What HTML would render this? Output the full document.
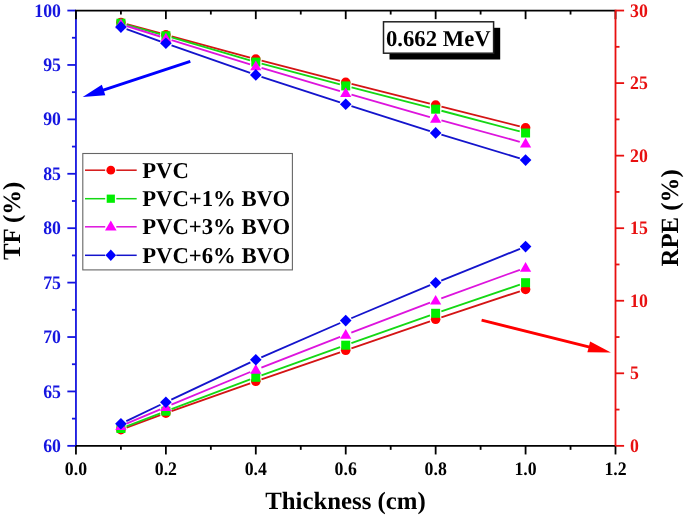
<!DOCTYPE html><html><head><meta charset="utf-8"><style>html,body{margin:0;padding:0;background:#fff;width:685px;height:517px;overflow:hidden}svg{display:block;will-change:transform} text{text-rendering:geometricPrecision}</style></head><body><svg width="685" height="517" viewBox="0 0 685 517"><rect width="685" height="517" fill="#fff"/><line x1="126.70" y1="24.08" x2="160.09" y2="33.22" stroke="#d41414" stroke-width="1.85"/><line x1="171.67" y1="36.37" x2="250.01" y2="57.53" stroke="#d41414" stroke-width="1.85"/><line x1="261.61" y1="60.60" x2="339.92" y2="80.90" stroke="#d41414" stroke-width="1.85"/><line x1="351.54" y1="83.87" x2="429.83" y2="103.63" stroke="#d41414" stroke-width="1.85"/><line x1="441.47" y1="106.57" x2="519.76" y2="126.33" stroke="#d41414" stroke-width="1.85"/><circle cx="120.91" cy="22.50" r="4.80" fill="#ff0000"/><circle cx="165.88" cy="34.80" r="4.80" fill="#ff0000"/><circle cx="255.80" cy="59.10" r="4.80" fill="#ff0000"/><circle cx="345.72" cy="82.40" r="4.80" fill="#ff0000"/><circle cx="435.65" cy="105.10" r="4.80" fill="#ff0000"/><circle cx="525.58" cy="127.80" r="4.80" fill="#ff0000"/><line x1="126.69" y1="24.82" x2="160.10" y2="34.18" stroke="#14d814" stroke-width="1.85"/><line x1="171.63" y1="37.48" x2="250.04" y2="60.42" stroke="#14d814" stroke-width="1.85"/><line x1="261.60" y1="63.64" x2="339.92" y2="84.36" stroke="#14d814" stroke-width="1.85"/><line x1="351.53" y1="87.40" x2="429.84" y2="107.70" stroke="#14d814" stroke-width="1.85"/><line x1="441.45" y1="110.74" x2="519.77" y2="131.46" stroke="#14d814" stroke-width="1.85"/><rect x="116.41" y="18.70" width="9.00" height="9.00" fill="#00ee00"/><rect x="161.38" y="31.30" width="9.00" height="9.00" fill="#00ee00"/><rect x="251.30" y="57.60" width="9.00" height="9.00" fill="#00ee00"/><rect x="341.22" y="81.40" width="9.00" height="9.00" fill="#00ee00"/><rect x="431.15" y="104.70" width="9.00" height="9.00" fill="#00ee00"/><rect x="521.08" y="128.50" width="9.00" height="9.00" fill="#00ee00"/><line x1="126.64" y1="26.00" x2="160.15" y2="36.50" stroke="#dd14dd" stroke-width="1.85"/><line x1="171.61" y1="40.08" x2="250.07" y2="64.42" stroke="#dd14dd" stroke-width="1.85"/><line x1="261.55" y1="67.91" x2="339.97" y2="91.19" stroke="#dd14dd" stroke-width="1.85"/><line x1="351.49" y1="94.55" x2="429.88" y2="117.05" stroke="#dd14dd" stroke-width="1.85"/><line x1="441.44" y1="120.29" x2="519.79" y2="141.81" stroke="#dd14dd" stroke-width="1.85"/><polygon points="120.91,18.60 126.51,28.20 115.31,28.20" fill="#ff00ff"/><polygon points="165.88,32.70 171.47,42.30 160.28,42.30" fill="#ff00ff"/><polygon points="255.80,60.60 261.40,70.20 250.20,70.20" fill="#ff00ff"/><polygon points="345.72,87.30 351.32,96.90 340.12,96.90" fill="#ff00ff"/><polygon points="435.65,113.10 441.25,122.70 430.05,122.70" fill="#ff00ff"/><polygon points="525.58,137.80 531.18,147.40 519.98,147.40" fill="#ff00ff"/><line x1="126.56" y1="29.13" x2="160.23" y2="41.27" stroke="#1414cc" stroke-width="1.85"/><line x1="171.54" y1="45.29" x2="250.14" y2="72.91" stroke="#1414cc" stroke-width="1.85"/><line x1="261.50" y1="76.76" x2="340.02" y2="102.44" stroke="#1414cc" stroke-width="1.85"/><line x1="351.44" y1="106.12" x2="429.93" y2="131.08" stroke="#1414cc" stroke-width="1.85"/><line x1="441.39" y1="134.64" x2="519.83" y2="158.36" stroke="#1414cc" stroke-width="1.85"/><polygon points="120.91,21.30 126.71,27.10 120.91,32.90 115.11,27.10" fill="#0000ff"/><polygon points="165.88,37.50 171.68,43.30 165.88,49.10 160.07,43.30" fill="#0000ff"/><polygon points="255.80,69.10 261.60,74.90 255.80,80.70 250.00,74.90" fill="#0000ff"/><polygon points="345.72,98.50 351.52,104.30 345.72,110.10 339.92,104.30" fill="#0000ff"/><polygon points="435.65,127.10 441.45,132.90 435.65,138.70 429.85,132.90" fill="#0000ff"/><polygon points="525.58,154.30 531.38,160.10 525.58,165.90 519.78,160.10" fill="#0000ff"/><line x1="126.54" y1="427.62" x2="160.25" y2="415.18" stroke="#d41414" stroke-width="1.85"/><line x1="171.53" y1="411.10" x2="250.14" y2="383.30" stroke="#d41414" stroke-width="1.85"/><line x1="261.47" y1="379.34" x2="340.05" y2="352.26" stroke="#d41414" stroke-width="1.85"/><line x1="351.40" y1="348.34" x2="429.98" y2="321.26" stroke="#d41414" stroke-width="1.85"/><line x1="441.34" y1="317.41" x2="519.88" y2="291.29" stroke="#d41414" stroke-width="1.85"/><circle cx="120.91" cy="429.70" r="4.80" fill="#ff0000"/><circle cx="165.88" cy="413.10" r="4.80" fill="#ff0000"/><circle cx="255.80" cy="381.30" r="4.80" fill="#ff0000"/><circle cx="345.72" cy="350.30" r="4.80" fill="#ff0000"/><circle cx="435.65" cy="319.30" r="4.80" fill="#ff0000"/><circle cx="525.58" cy="289.40" r="4.80" fill="#ff0000"/><line x1="126.51" y1="426.35" x2="160.28" y2="413.35" stroke="#14d814" stroke-width="1.85"/><line x1="171.49" y1="409.08" x2="250.19" y2="379.42" stroke="#14d814" stroke-width="1.85"/><line x1="261.45" y1="375.28" x2="340.07" y2="347.22" stroke="#14d814" stroke-width="1.85"/><line x1="351.38" y1="343.19" x2="430.00" y2="315.31" stroke="#14d814" stroke-width="1.85"/><line x1="441.33" y1="311.37" x2="519.89" y2="284.63" stroke="#14d814" stroke-width="1.85"/><rect x="116.41" y="424.00" width="9.00" height="9.00" fill="#00ee00"/><rect x="161.38" y="406.70" width="9.00" height="9.00" fill="#00ee00"/><rect x="251.30" y="372.80" width="9.00" height="9.00" fill="#00ee00"/><rect x="341.22" y="340.70" width="9.00" height="9.00" fill="#00ee00"/><rect x="431.15" y="308.80" width="9.00" height="9.00" fill="#00ee00"/><rect x="521.08" y="278.20" width="9.00" height="9.00" fill="#00ee00"/><line x1="126.44" y1="423.57" x2="160.34" y2="409.33" stroke="#dd14dd" stroke-width="1.85"/><line x1="171.42" y1="404.70" x2="250.26" y2="372.00" stroke="#dd14dd" stroke-width="1.85"/><line x1="261.39" y1="367.52" x2="340.13" y2="336.88" stroke="#dd14dd" stroke-width="1.85"/><line x1="351.33" y1="332.57" x2="430.04" y2="302.63" stroke="#dd14dd" stroke-width="1.85"/><line x1="441.29" y1="298.44" x2="519.94" y2="269.76" stroke="#dd14dd" stroke-width="1.85"/><polygon points="120.91,420.30 126.51,429.90 115.31,429.90" fill="#ff00ff"/><polygon points="165.88,401.40 171.47,411.00 160.28,411.00" fill="#ff00ff"/><polygon points="255.80,364.10 261.40,373.70 250.20,373.70" fill="#ff00ff"/><polygon points="345.72,329.10 351.32,338.70 340.12,338.70" fill="#ff00ff"/><polygon points="435.65,294.90 441.25,304.50 430.05,304.50" fill="#ff00ff"/><polygon points="525.58,262.10 531.18,271.70 519.98,271.70" fill="#ff00ff"/><line x1="126.33" y1="421.11" x2="160.46" y2="404.79" stroke="#1414cc" stroke-width="1.85"/><line x1="171.30" y1="399.64" x2="250.37" y2="362.36" stroke="#1414cc" stroke-width="1.85"/><line x1="261.30" y1="357.40" x2="340.22" y2="323.00" stroke="#1414cc" stroke-width="1.85"/><line x1="351.26" y1="318.27" x2="430.12" y2="285.13" stroke="#1414cc" stroke-width="1.85"/><line x1="441.22" y1="280.56" x2="520.01" y2="248.84" stroke="#1414cc" stroke-width="1.85"/><polygon points="120.91,417.90 126.71,423.70 120.91,429.50 115.11,423.70" fill="#0000ff"/><polygon points="165.88,396.40 171.68,402.20 165.88,408.00 160.07,402.20" fill="#0000ff"/><polygon points="255.80,354.00 261.60,359.80 255.80,365.60 250.00,359.80" fill="#0000ff"/><polygon points="345.72,314.80 351.52,320.60 345.72,326.40 339.92,320.60" fill="#0000ff"/><polygon points="435.65,277.00 441.45,282.80 435.65,288.60 429.85,282.80" fill="#0000ff"/><polygon points="525.58,240.80 531.38,246.60 525.58,252.40 519.78,246.60" fill="#0000ff"/><line x1="75.95" y1="10.55" x2="75.95" y2="445.85" stroke="#1515e0" stroke-width="1.8"/><line x1="67.35000000000001" y1="445.85" x2="75.95" y2="445.85" stroke="#1515e0" stroke-width="1.8"/><line x1="71.95" y1="418.64" x2="75.95" y2="418.64" stroke="#1515e0" stroke-width="1.8"/><line x1="67.35000000000001" y1="391.44" x2="75.95" y2="391.44" stroke="#1515e0" stroke-width="1.8"/><line x1="71.95" y1="364.23" x2="75.95" y2="364.23" stroke="#1515e0" stroke-width="1.8"/><line x1="67.35000000000001" y1="337.03" x2="75.95" y2="337.03" stroke="#1515e0" stroke-width="1.8"/><line x1="71.95" y1="309.82" x2="75.95" y2="309.82" stroke="#1515e0" stroke-width="1.8"/><line x1="67.35000000000001" y1="282.61" x2="75.95" y2="282.61" stroke="#1515e0" stroke-width="1.8"/><line x1="71.95" y1="255.41" x2="75.95" y2="255.41" stroke="#1515e0" stroke-width="1.8"/><line x1="67.35000000000001" y1="228.20" x2="75.95" y2="228.20" stroke="#1515e0" stroke-width="1.8"/><line x1="71.95" y1="200.99" x2="75.95" y2="200.99" stroke="#1515e0" stroke-width="1.8"/><line x1="67.35000000000001" y1="173.79" x2="75.95" y2="173.79" stroke="#1515e0" stroke-width="1.8"/><line x1="71.95" y1="146.58" x2="75.95" y2="146.58" stroke="#1515e0" stroke-width="1.8"/><line x1="67.35000000000001" y1="119.38" x2="75.95" y2="119.38" stroke="#1515e0" stroke-width="1.8"/><line x1="71.95" y1="92.17" x2="75.95" y2="92.17" stroke="#1515e0" stroke-width="1.8"/><line x1="67.35000000000001" y1="64.96" x2="75.95" y2="64.96" stroke="#1515e0" stroke-width="1.8"/><line x1="71.95" y1="37.76" x2="75.95" y2="37.76" stroke="#1515e0" stroke-width="1.8"/><line x1="67.35000000000001" y1="10.55" x2="75.95" y2="10.55" stroke="#1515e0" stroke-width="1.8"/><line x1="75.05" y1="10.55" x2="615.5" y2="10.55" stroke="#000" stroke-width="1.8"/><line x1="75.95" y1="445.85" x2="615.5" y2="445.85" stroke="#000" stroke-width="1.8"/><line x1="75.95" y1="10.55" x2="75.95" y2="19.15" stroke="#000" stroke-width="1.8"/><line x1="75.95" y1="445.85" x2="75.95" y2="454.45000000000005" stroke="#000" stroke-width="1.8"/><line x1="120.91" y1="10.55" x2="120.91" y2="14.55" stroke="#000" stroke-width="1.8"/><line x1="120.91" y1="445.85" x2="120.91" y2="449.85" stroke="#000" stroke-width="1.8"/><line x1="165.88" y1="10.55" x2="165.88" y2="19.15" stroke="#000" stroke-width="1.8"/><line x1="165.88" y1="445.85" x2="165.88" y2="454.45000000000005" stroke="#000" stroke-width="1.8"/><line x1="210.84" y1="10.55" x2="210.84" y2="14.55" stroke="#000" stroke-width="1.8"/><line x1="210.84" y1="445.85" x2="210.84" y2="449.85" stroke="#000" stroke-width="1.8"/><line x1="255.80" y1="10.55" x2="255.80" y2="19.15" stroke="#000" stroke-width="1.8"/><line x1="255.80" y1="445.85" x2="255.80" y2="454.45000000000005" stroke="#000" stroke-width="1.8"/><line x1="300.76" y1="10.55" x2="300.76" y2="14.55" stroke="#000" stroke-width="1.8"/><line x1="300.76" y1="445.85" x2="300.76" y2="449.85" stroke="#000" stroke-width="1.8"/><line x1="345.73" y1="10.55" x2="345.73" y2="19.15" stroke="#000" stroke-width="1.8"/><line x1="345.73" y1="445.85" x2="345.73" y2="454.45000000000005" stroke="#000" stroke-width="1.8"/><line x1="390.69" y1="10.55" x2="390.69" y2="14.55" stroke="#000" stroke-width="1.8"/><line x1="390.69" y1="445.85" x2="390.69" y2="449.85" stroke="#000" stroke-width="1.8"/><line x1="435.65" y1="10.55" x2="435.65" y2="19.15" stroke="#000" stroke-width="1.8"/><line x1="435.65" y1="445.85" x2="435.65" y2="454.45000000000005" stroke="#000" stroke-width="1.8"/><line x1="480.61" y1="10.55" x2="480.61" y2="14.55" stroke="#000" stroke-width="1.8"/><line x1="480.61" y1="445.85" x2="480.61" y2="449.85" stroke="#000" stroke-width="1.8"/><line x1="525.58" y1="10.55" x2="525.58" y2="19.15" stroke="#000" stroke-width="1.8"/><line x1="525.58" y1="445.85" x2="525.58" y2="454.45000000000005" stroke="#000" stroke-width="1.8"/><line x1="570.54" y1="10.55" x2="570.54" y2="14.55" stroke="#000" stroke-width="1.8"/><line x1="570.54" y1="445.85" x2="570.54" y2="449.85" stroke="#000" stroke-width="1.8"/><line x1="615.50" y1="10.55" x2="615.50" y2="19.15" stroke="#000" stroke-width="1.8"/><line x1="615.50" y1="445.85" x2="615.50" y2="454.45000000000005" stroke="#000" stroke-width="1.8"/><line x1="615.5" y1="9.65" x2="615.5" y2="445.85" stroke="#e81010" stroke-width="1.8"/><line x1="615.5" y1="445.85" x2="624.1" y2="445.85" stroke="#e81010" stroke-width="1.8"/><line x1="615.5" y1="409.58" x2="619.5" y2="409.58" stroke="#e81010" stroke-width="1.8"/><line x1="615.5" y1="373.30" x2="624.1" y2="373.30" stroke="#e81010" stroke-width="1.8"/><line x1="615.5" y1="337.03" x2="619.5" y2="337.03" stroke="#e81010" stroke-width="1.8"/><line x1="615.5" y1="300.75" x2="624.1" y2="300.75" stroke="#e81010" stroke-width="1.8"/><line x1="615.5" y1="264.48" x2="619.5" y2="264.48" stroke="#e81010" stroke-width="1.8"/><line x1="615.5" y1="228.20" x2="624.1" y2="228.20" stroke="#e81010" stroke-width="1.8"/><line x1="615.5" y1="191.93" x2="619.5" y2="191.93" stroke="#e81010" stroke-width="1.8"/><line x1="615.5" y1="155.65" x2="624.1" y2="155.65" stroke="#e81010" stroke-width="1.8"/><line x1="615.5" y1="119.38" x2="619.5" y2="119.38" stroke="#e81010" stroke-width="1.8"/><line x1="615.5" y1="83.10" x2="624.1" y2="83.10" stroke="#e81010" stroke-width="1.8"/><line x1="615.5" y1="46.83" x2="619.5" y2="46.83" stroke="#e81010" stroke-width="1.8"/><line x1="615.5" y1="10.55" x2="624.1" y2="10.55" stroke="#e81010" stroke-width="1.8"/><text transform="translate(61,451.95) scale(1,1.075)" font-family="Liberation Serif" font-weight="bold" font-size="17.8" fill="#1515e0" text-anchor="end">60</text><text transform="translate(61,397.54) scale(1,1.075)" font-family="Liberation Serif" font-weight="bold" font-size="17.8" fill="#1515e0" text-anchor="end">65</text><text transform="translate(61,343.13) scale(1,1.075)" font-family="Liberation Serif" font-weight="bold" font-size="17.8" fill="#1515e0" text-anchor="end">70</text><text transform="translate(61,288.71) scale(1,1.075)" font-family="Liberation Serif" font-weight="bold" font-size="17.8" fill="#1515e0" text-anchor="end">75</text><text transform="translate(61,234.30) scale(1,1.075)" font-family="Liberation Serif" font-weight="bold" font-size="17.8" fill="#1515e0" text-anchor="end">80</text><text transform="translate(61,179.89) scale(1,1.075)" font-family="Liberation Serif" font-weight="bold" font-size="17.8" fill="#1515e0" text-anchor="end">85</text><text transform="translate(61,125.47) scale(1,1.075)" font-family="Liberation Serif" font-weight="bold" font-size="17.8" fill="#1515e0" text-anchor="end">90</text><text transform="translate(61,71.06) scale(1,1.075)" font-family="Liberation Serif" font-weight="bold" font-size="17.8" fill="#1515e0" text-anchor="end">95</text><text transform="translate(61,16.65) scale(1,1.075)" font-family="Liberation Serif" font-weight="bold" font-size="17.8" fill="#1515e0" text-anchor="end">100</text><text transform="translate(630,451.95) scale(1,1.075)" font-family="Liberation Serif" font-weight="bold" font-size="17.8" fill="#e81010">0</text><text transform="translate(630,379.40) scale(1,1.075)" font-family="Liberation Serif" font-weight="bold" font-size="17.8" fill="#e81010">5</text><text transform="translate(630,306.85) scale(1,1.075)" font-family="Liberation Serif" font-weight="bold" font-size="17.8" fill="#e81010">10</text><text transform="translate(630,234.30) scale(1,1.075)" font-family="Liberation Serif" font-weight="bold" font-size="17.8" fill="#e81010">15</text><text transform="translate(630,161.75) scale(1,1.075)" font-family="Liberation Serif" font-weight="bold" font-size="17.8" fill="#e81010">20</text><text transform="translate(630,89.20) scale(1,1.075)" font-family="Liberation Serif" font-weight="bold" font-size="17.8" fill="#e81010">25</text><text transform="translate(630,16.65) scale(1,1.075)" font-family="Liberation Serif" font-weight="bold" font-size="17.8" fill="#e81010">30</text><text transform="translate(75.95,474.6) scale(1,1.075)" font-family="Liberation Serif" font-weight="bold" font-size="17.8" fill="#000" text-anchor="middle">0.0</text><text transform="translate(165.88,474.6) scale(1,1.075)" font-family="Liberation Serif" font-weight="bold" font-size="17.8" fill="#000" text-anchor="middle">0.2</text><text transform="translate(255.80,474.6) scale(1,1.075)" font-family="Liberation Serif" font-weight="bold" font-size="17.8" fill="#000" text-anchor="middle">0.4</text><text transform="translate(345.73,474.6) scale(1,1.075)" font-family="Liberation Serif" font-weight="bold" font-size="17.8" fill="#000" text-anchor="middle">0.6</text><text transform="translate(435.65,474.6) scale(1,1.075)" font-family="Liberation Serif" font-weight="bold" font-size="17.8" fill="#000" text-anchor="middle">0.8</text><text transform="translate(525.58,474.6) scale(1,1.075)" font-family="Liberation Serif" font-weight="bold" font-size="17.8" fill="#000" text-anchor="middle">1.0</text><text transform="translate(615.50,474.6) scale(1,1.075)" font-family="Liberation Serif" font-weight="bold" font-size="17.8" fill="#000" text-anchor="middle">1.2</text><text x="345.5" y="509.2" font-family="Liberation Serif" font-weight="bold" font-size="24.8" fill="#000" text-anchor="middle">Thickness (cm)</text><text transform="translate(20,220.8) rotate(-90)" font-family="Liberation Serif" font-weight="bold" font-size="24.8" fill="#000" text-anchor="middle">TF (%)</text><text transform="translate(678.4,217.9) rotate(-90)" font-family="Liberation Serif" font-weight="bold" font-size="24.8" fill="#000" text-anchor="middle">RPE (%)</text><rect x="82.8" y="153.5" width="209.6" height="116.4" fill="#fff" stroke="#666" stroke-width="1.1"/><line x1="85" y1="170.2" x2="105.2" y2="170.2" stroke="#d41414" stroke-width="1.5"/><line x1="116.3" y1="170.2" x2="136.7" y2="170.2" stroke="#d41414" stroke-width="1.5"/><circle cx="110.80" cy="170.20" r="4.4" fill="#ff0000"/><text x="142.2" y="177.80" font-family="Liberation Serif" font-weight="bold" font-size="22.7" fill="#000">PVC</text><line x1="85" y1="198.7" x2="105.2" y2="198.7" stroke="#14d814" stroke-width="1.5"/><line x1="116.3" y1="198.7" x2="136.7" y2="198.7" stroke="#14d814" stroke-width="1.5"/><rect x="106.70" y="194.60" width="8.20" height="8.20" fill="#00ee00"/><text x="142.2" y="206.30" font-family="Liberation Serif" font-weight="bold" font-size="22.7" fill="#000">PVC+1% BVO</text><line x1="85" y1="226.8" x2="105.2" y2="226.8" stroke="#dd14dd" stroke-width="1.5"/><line x1="116.3" y1="226.8" x2="136.7" y2="226.8" stroke="#dd14dd" stroke-width="1.5"/><polygon points="110.80,220.50 116.60,230.40 105.00,230.40" fill="#ff00ff"/><text x="142.2" y="234.40" font-family="Liberation Serif" font-weight="bold" font-size="22.7" fill="#000">PVC+3% BVO</text><line x1="85" y1="255.3" x2="105.2" y2="255.3" stroke="#1414cc" stroke-width="1.5"/><line x1="116.3" y1="255.3" x2="136.7" y2="255.3" stroke="#1414cc" stroke-width="1.5"/><polygon points="110.80,249.60 116.10,255.30 110.80,261.00 105.50,255.30" fill="#0000ff"/><text x="142.2" y="262.90" font-family="Liberation Serif" font-weight="bold" font-size="22.7" fill="#000">PVC+6% BVO</text><rect x="389.5" y="27.8" width="110.7" height="31.7" fill="#000"/><rect x="383.5" y="21.8" width="110.1" height="31.4" fill="#fff" stroke="#222" stroke-width="1.5"/><text x="386.0" y="45.8" font-family="Liberation Serif" font-weight="bold" font-size="22.7" fill="#000">0.662 MeV</text><line x1="190.30" y1="61.30" x2="101.69" y2="90.62" stroke="#0000ff" stroke-width="3"/><polygon points="82.70,96.90 101.86,84.77 105.31,95.21" fill="#0000ff"/><line x1="481.60" y1="320.10" x2="590.72" y2="347.36" stroke="#ff0000" stroke-width="3"/><polygon points="610.90,352.40 587.41,352.36 590.15,341.39" fill="#ff0000"/></svg></body></html>
